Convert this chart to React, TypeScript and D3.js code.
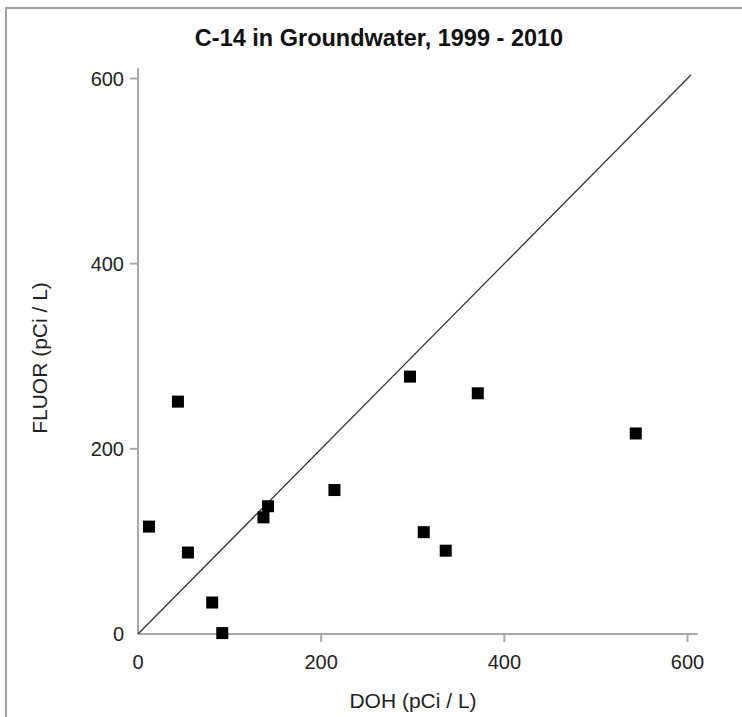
import React from "react";
import * as d3 from "d3";

const title = "C-14 in Groundwater, 1999 - 2010";
const xLabel = "DOH (pCi / L)";
const yLabel = "FLUOR (pCi / L)";
const doh = [12, 43.6, 54.5, 81, 92, 137, 142, 214.5, 297, 371, 543.5, 312, 336];
const fluor = [116, 251, 88, 34, 1, 126, 138, 155.5, 278, 260, 216.6, 110, 90];
const xTicks = [0, 200, 400, 600];
const yTicks = [0, 200, 400, 600];
const refLine = [0, 604];

export default function App() {
  const W = 742, H = 717;
  const x = d3.scaleLinear().domain([0, 600]).range([138, 687.5]);
  const y = d3.scaleLinear().domain([0, 600]).range([634, 78.5]);
  const axisMax = 611;
  const line = d3.line<number>().x((d) => x(d)).y((d) => y(d));
  const font = "'Liberation Sans', Arial, sans-serif";
  const s = 12;
  return (
    <svg width={W} height={H} style={{ position: "absolute", left: 0, top: 0 }} fontFamily={font}>
      <rect x={0} y={0} width={W} height={H} fill="#fff" />
      <rect x={6} y={8} width={W + 10} height={H + 10} fill="none" stroke="#a0a0a0" strokeWidth={2} />
      <text x={379} y={46} textAnchor="middle" fontWeight="bold" fontSize={23.5} fill="#111">{title}</text>
      {/* axes */}
      <line x1={x(0)} x2={x(axisMax)} y1={y(0)} y2={y(0)} stroke="#a8a8a8" strokeWidth={2} />
      <line x1={x(0)} x2={x(0)} y1={y(0)} y2={y(axisMax)} stroke="#a8a8a8" strokeWidth={2} />
      {xTicks.map((t) => (
        <g key={"x" + t}>
          {t > 0 && <line x1={x(t)} x2={x(t)} y1={y(0)} y2={y(0) + 8} stroke="#a8a8a8" strokeWidth={2} />}
          <text x={x(t)} y={669} textAnchor="middle" fontSize={20} fill="#222">{t}</text>
        </g>
      ))}
      {yTicks.map((t) => (
        <g key={"y" + t}>
          {t > 0 && <line x1={x(0) - 8} x2={x(0)} y1={y(t)} y2={y(t)} stroke="#a8a8a8" strokeWidth={2} />}
          <text x={124} y={y(t) + 7} textAnchor="end" fontSize={20} fill="#222">{t}</text>
        </g>
      ))}
      <path d={line(refLine) || ""} stroke="#333" strokeWidth={1.3} fill="none" />
      {doh.map((d, i) => (
        <rect key={i} x={x(d) - s / 2} y={y(fluor[i]) - s / 2} width={s} height={s} fill="#000" />
      ))}
      <text x={413} y={708} textAnchor="middle" fontSize={21} fill="#222">{xLabel}</text>
      <text transform={`translate(47,358) rotate(-90)`} textAnchor="middle" fontSize={21} fill="#222">{yLabel}</text>
    </svg>
  );
}
